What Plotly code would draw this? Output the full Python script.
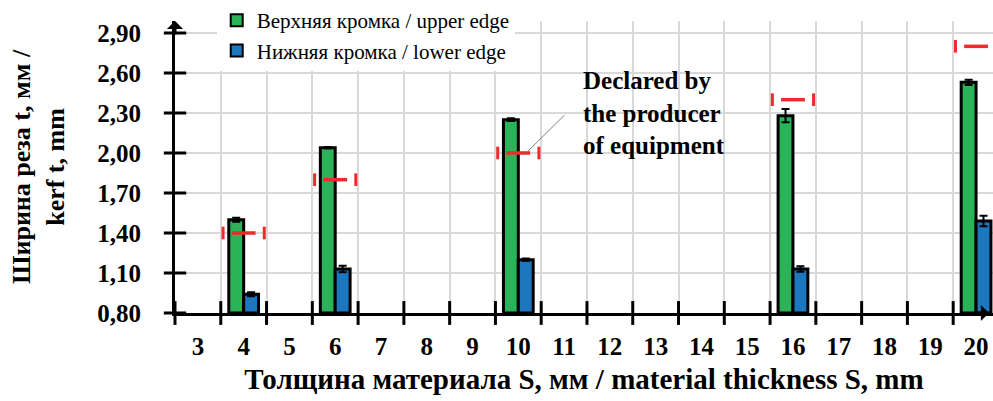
import plotly.graph_objects as go

# ---- data ----
thickness = [4, 6, 10, 16, 20]
upper_edge = [1.50, 2.04, 2.25, 2.28, 2.53]
upper_err = [0.015, 0.005, 0.01, 0.05, 0.02]
lower_edge = [0.94, 1.13, 1.20, 1.13, 1.49]
lower_err = [0.015, 0.025, 0.008, 0.02, 0.04]
declared = [1.40, 1.80, 2.00, 2.40, 2.80]
x_categories = list(range(3, 21))
y_ticks = [0.80, 1.10, 1.40, 1.70, 2.00, 2.30, 2.60, 2.90]
y_ticktext = ["0,80", "1,10", "1,40", "1,70", "2,00", "2,30", "2,60", "2,90"]

GREEN = "#2BB35A"
BLUE = "#1C77BE"
RED = "#EE2A2A"
FONT = "Liberation Serif"
BAR_W = 0.325

fig = go.Figure()

fig.add_trace(go.Bar(
    x=thickness, y=[v - 0.80 for v in upper_edge], base=0.80,
    width=BAR_W, offset=-BAR_W,
    marker=dict(color=GREEN, line=dict(color="black", width=3)),
    error_y=dict(type="data", array=upper_err, color="black", thickness=2, width=4),
    name="Верхняя кромка / upper edge",
))
fig.add_trace(go.Bar(
    x=thickness, y=[v - 0.80 for v in lower_edge], base=0.80,
    width=BAR_W, offset=0,
    marker=dict(color=BLUE, line=dict(color="black", width=3)),
    error_y=dict(type="data", array=lower_err, color="black", thickness=2, width=4),
    name="Нижняя кромка / lower edge",
))

# declared values: red dash with end marks
for c, v in zip(thickness, declared):
    fig.add_trace(go.Scatter(
        x=[c - 0.26, c + 0.26], y=[v, v], mode="lines",
        line=dict(color=RED, width=3.5), showlegend=False, hoverinfo="skip",
        cliponaxis=False,
    ))
    fig.add_trace(go.Scatter(
        x=[c - 0.45, c + 0.45], y=[v, v], mode="markers",
        marker=dict(symbol="line-ns", size=9, line=dict(color=RED, width=3)),
        showlegend=False, hoverinfo="skip", cliponaxis=False,
    ))

# crossing tick marks on axes
x_bounds = [c - 0.5 for c in x_categories]
fig.add_trace(go.Scatter(
    x=x_bounds, y=[0.80] * len(x_bounds), mode="markers",
    marker=dict(symbol="line-ns", size=17, line=dict(color="black", width=3)),
    showlegend=False, hoverinfo="skip", cliponaxis=False,
))
fig.add_trace(go.Scatter(
    x=[2.5] * len(y_ticks), y=y_ticks, mode="markers",
    marker=dict(symbol="line-ew", size=16, line=dict(color="black", width=3)),
    showlegend=False, hoverinfo="skip", cliponaxis=False,
))

fig.update_layout(
    width=993, height=401,
    margin=dict(l=175, r=0, t=20, b=88),
    plot_bgcolor="white", paper_bgcolor="white",
    font=dict(family=FONT, color="black"),
    showlegend=True,
    legend=dict(
        x=0.051, y=1.072, xanchor="left", yanchor="top",
        bgcolor="white", font=dict(family=FONT, size=21, color="black"),
        itemsizing="constant", tracegroupgap=0, itemwidth=30,
    ),
    xaxis=dict(
        range=[2.5, 20.37],
        tickmode="array", tickvals=x_categories, ticktext=[str(c) for c in x_categories],
        ticks="", showgrid=False, zeroline=False,
        showline=True, linecolor="black", linewidth=3,
        tickfont=dict(family=FONT, size=25, color="black", weight="bold"),
        ticklabelstandoff=9,
        minor=dict(tickmode="array", tickvals=x_bounds, showgrid=True,
                   gridcolor="#D9D9D9", gridwidth=2, ticks=""),
        title=dict(text="<b>Толщина материала S, мм / material thickness S, mm</b>",
                   font=dict(family=FONT, size=29, color="black"), standoff=10),
    ),
    yaxis=dict(
        range=[0.80, 2.99],
        tickmode="array", tickvals=y_ticks, ticktext=y_ticktext,
        ticks="", showgrid=True, gridcolor="#D9D9D9", gridwidth=2, zeroline=False,
        showline=True, linecolor="black", linewidth=3,
        tickfont=dict(family=FONT, size=25, color="black", weight="bold"),
        ticklabelstandoff=26,
        title=dict(text="<b>Ширина реза t, мм /<br>kerf t, mm</b>",
                   font=dict(family=FONT, size=26, color="black"), standoff=26),
    ),
)

# axis arrows
fig.add_annotation(x=2.5, y=2.99, xref="x", yref="y", ax=0, ay=15,
                   showarrow=True, arrowhead=1, arrowsize=0.9, arrowwidth=3,
                   arrowcolor="black", text="")
fig.add_annotation(x=1.0, y=0.80, xref="paper", yref="y", ax=-15, ay=0,
                   showarrow=True, arrowhead=1, arrowsize=0.9, arrowwidth=3,
                   arrowcolor="black", text="", xshift=-3)

# leader line and declared label
fig.add_annotation(x=10.17, y=2.0, xref="x", yref="y",
                   ax=11.04, ay=2.295, axref="x", ayref="y",
                   showarrow=True, arrowhead=0, arrowwidth=1, arrowcolor="#7F7F7F", text="")
fig.add_annotation(x=11.38, y=2.30, xref="x", yref="y", xanchor="left", yanchor="middle",
                   showarrow=False, align="left",
                   text="<b>Declared by<br>the producer<br>of equipment</b>",
                   font=dict(family=FONT, size=25, color="black"))

fig.write_html("out.html")
